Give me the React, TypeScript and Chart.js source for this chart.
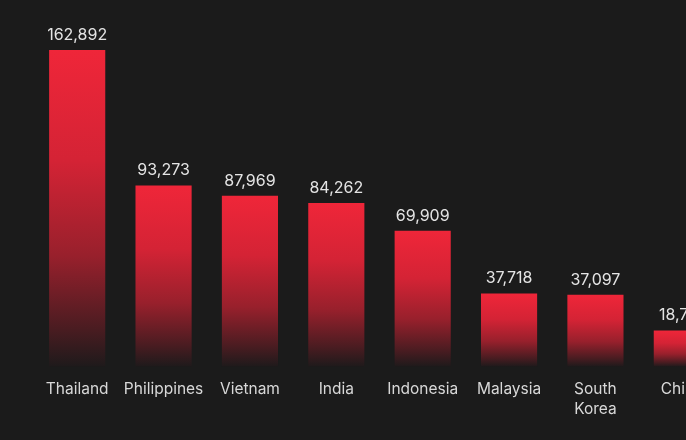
import React, { useEffect, useRef } from "react";
import { Chart, registerables } from "chart.js";

Chart.register(...registerables);

const categories: (string | string[])[] = [
  "Thailand",
  "Philippines",
  "Vietnam",
  "India",
  "Indonesia",
  "Malaysia",
  ["South", "Korea"],
  "China",
];
const values: number[] = [162892, 93273, 87969, 84262, 69909, 37718, 37097, 18712];

const BG = "#1b1b1b";
const FONT = "Inter, 'Noto Sans', sans-serif";

const valueLabels = {
  id: "valueLabels",
  afterDatasetsDraw(chart: any) {
    const ctx = chart.ctx;
    const meta = chart.getDatasetMeta(0);
    ctx.save();
    ctx.fillStyle = "#e4e4e4";
    ctx.font = `400 16px ${FONT}`;
    ctx.textAlign = "center";
    ctx.textBaseline = "alphabetic";
    meta.data.forEach((bar: any, i: number) => {
      const v = values[i];
      ctx.fillText(v.toLocaleString("en-US"), bar.x, bar.y - 10);
    });
    ctx.restore();
  },
};

export default function App() {
  const ref = useRef<HTMLCanvasElement>(null);
  useEffect(() => {
    if (!ref.current) return;
    const chart = new Chart(ref.current, {
      type: "bar",
      data: {
        labels: categories,
        datasets: [
          {
            data: values,
            barPercentage: 0.65,
            categoryPercentage: 1,
            borderWidth: 0,
            backgroundColor: (c: any) => {
              const ch = c.chart;
              const ys = ch.scales?.y;
              if (!ys || c.type !== "data") return "#e8232f";
              const top = ys.getPixelForValue(c.raw);
              const bottom = ys.getPixelForValue(0);
              if (!isFinite(top) || !isFinite(bottom)) return "#e8232f";
              const g = ch.ctx.createLinearGradient(0, top, 0, bottom);
              g.addColorStop(0, "#ef2639");
              g.addColorStop(0.35, "#d42335");
              g.addColorStop(0.65, "#98202c");
              g.addColorStop(0.88, "#4a1c21");
              g.addColorStop(1, "#1e1a1b");
              return g;
            },
          },
        ],
      },
      options: {
        responsive: false,
        animation: false,
        layout: { padding: { left: 34, right: 35, top: 50, bottom: 16 } },
        plugins: {
          legend: { display: false },
          tooltip: { enabled: false },
        },
        scales: {
          x: {
            grid: { display: false },
            border: { display: false },
            ticks: {
              color: "#d8d8d8",
              padding: 4,
              maxRotation: 0,
              autoSkip: false,
              font: { family: FONT, size: 15.5, lineHeight: 1.33 },
            },
          },
          y: {
            display: false,
            min: 0,
            max: Math.max(...values),
          },
        },
      },
      plugins: [valueLabels],
    });
    return () => chart.destroy();
  }, []);

  return (
    <div
      style={{
        position: "fixed",
        top: 0,
        left: 0,
        width: 686,
        height: 440,
        overflow: "hidden",
        background: BG,
      }}
    >
      <canvas ref={ref} width={760} height={440} style={{ width: 760, height: 440, display: "block" }} />
    </div>
  );
}
